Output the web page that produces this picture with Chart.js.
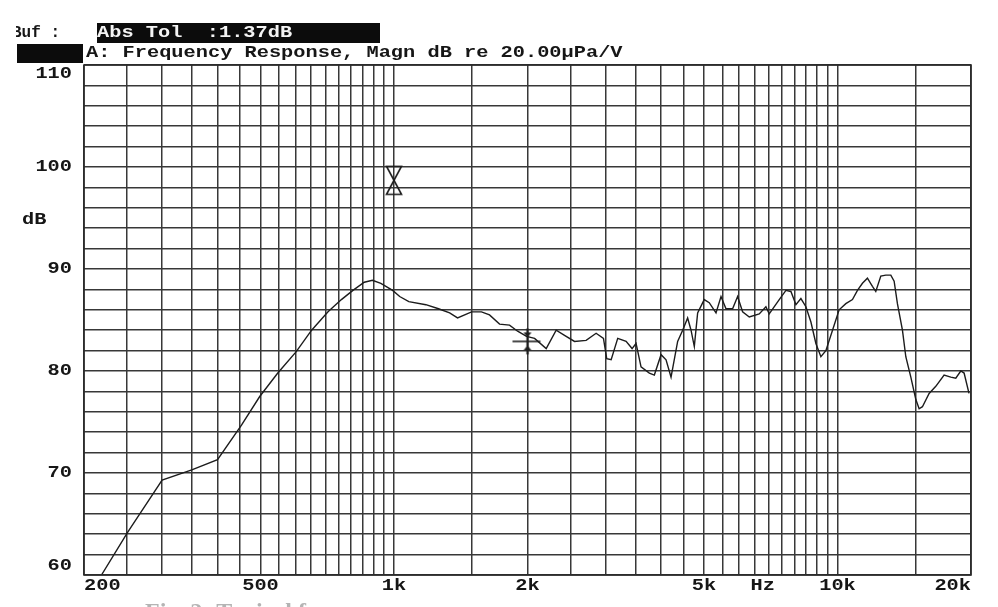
<!DOCTYPE html>
<html>
<head>
<meta charset="utf-8">
<script src="https://cdn.jsdelivr.net/npm/chart.js@4/dist/chart.umd.min.js"></script>
<style>
  html, body { margin: 0; padding: 0; background: #ffffff; }
  #wrap { width: 998px; height: 607px; position: relative; }
</style>
</head>
<body>
<div id="wrap"><canvas id="c" width="998" height="607"></canvas></div>
<script>
// ---- data ----
const freqHz = [219, 251, 300, 350, 400, 453, 498, 547, 602, 652, 710, 761, 808, 857, 894, 934, 993,
  1030, 1080, 1180, 1260, 1335, 1391, 1496, 1575, 1642, 1730, 1822, 1900, 1990, 2075, 2204, 2321, 2424,
  2553, 2712, 2856, 2967, 3018, 3088, 3195, 3337, 3442, 3514, 3606, 3765, 3864, 4001, 4106, 4214, 4361,
  4476, 4593, 4675, 4755, 4838, 5006, 5138, 5322, 5462, 5605, 5801, 5954, 6110, 6325, 6661, 6896, 7015,
  7390, 7650, 7852, 8059, 8270, 8487, 8711, 8939, 9174, 9414, 9745, 10085, 10442, 10808, 11092, 11383,
  11682, 11989, 12200, 12522, 12851, 13189, 13419, 13650, 14010, 14258, 14634, 15020, 15278, 15541,
  16091, 16659, 17393, 18009, 18481, 18967, 19296, 19794];
const dbValues = [60.0, 64.2, 69.3, 70.3, 71.3, 74.7, 77.5, 79.8, 81.9, 84.0, 85.8, 87.0, 87.9, 88.7, 88.9, 88.6, 87.9,
  87.3, 86.8, 86.5, 86.1, 85.7, 85.2, 85.8, 85.8, 85.5, 84.6, 84.5, 83.9, 83.4, 83.2, 82.2, 84.0, 83.5,
  82.9, 83.0, 83.7, 83.2, 81.2, 81.1, 83.2, 82.9, 82.2, 82.7, 80.4, 79.8, 79.6, 81.6, 81.1, 79.4, 82.9,
  84.0, 85.2, 84.0, 82.4, 85.7, 87.0, 86.7, 85.7, 87.3, 86.1, 86.1, 87.3, 85.8, 85.3, 85.6, 86.3, 85.6,
  87.0, 87.9, 87.8, 86.5, 87.1, 86.3, 84.8, 82.7, 81.4, 82.0, 84.0, 86.0, 86.6, 87.0, 87.9, 88.6,
  89.1, 88.3, 87.8, 89.3, 89.4, 89.4, 88.8, 86.6, 84.0, 81.4, 79.4, 77.2, 76.3, 76.5,
  77.8, 78.5, 79.6, 79.4, 79.3, 80.0, 79.8, 77.8];

const markerFreq = [1000, 2000];
const markerDb = [98.7, 82.9];

const xGridTicks = [200, 250, 300, 350, 400, 450, 500, 550, 600, 650, 700, 750, 800, 850, 900, 950, 1000,
  1500, 2000, 2500, 3000, 3500, 4000, 4500, 5000, 5500, 6000, 6500, 7000, 7500, 8000, 8500, 9000, 9500,
  10000, 15000, 20000];
const xLabelValues = [200, 500, 1000, 2000, 5000, 10000, 20000];
const xLabelTexts = ['200', '500', '1k', '2k', '5k', '10k', '20k'];
const yLabelValues = [60, 70, 80, 90, 100, 110];
const yMin = 60, yMax = 110, yStep = 2;
const xMin = 200, xMax = 20000;

const headerBuf = 'Buf :';
const headerTol = 'Abs Tol  :1.37dB';
const titleText = 'A: Frequency Response, Magn dB re 20.00\u00B5Pa/V';
const yUnit = 'dB';
const xUnit = 'Hz';
const xUnitPos = 6780;
const captionText = 'Fig. 2: Typical frequency response';

// ---- marker glyphs ----
function makeHourglass() {
  const c = document.createElement('canvas');
  c.width = 18; c.height = 31;
  const g = c.getContext('2d');
  g.strokeStyle = '#1e1e1e'; g.lineWidth = 1.6;
  g.beginPath();
  g.moveTo(1.5, 1.5); g.lineTo(16.5, 1.5); g.lineTo(9, 15.5); g.closePath();
  g.moveTo(9, 15.5); g.lineTo(1.5, 29.5); g.lineTo(16.5, 29.5); g.closePath();
  g.stroke();
  return c;
}
function makeCursor() {
  const c = document.createElement('canvas');
  c.width = 34; c.height = 30;
  const g = c.getContext('2d');
  g.strokeStyle = '#1e1e1e'; g.fillStyle = '#1e1e1e';
  g.lineWidth = 1.6;
  g.beginPath(); g.moveTo(2, 15); g.lineTo(30, 15); g.stroke();
  g.lineWidth = 2.2;
  g.beginPath(); g.moveTo(17, 2); g.lineTo(17, 28); g.stroke();
  g.beginPath(); g.moveTo(13, 6); g.lineTo(21, 6); g.lineTo(17, 11); g.closePath(); g.fill();
  g.beginPath(); g.moveTo(13, 24); g.lineTo(21, 24); g.lineTo(17, 19); g.closePath(); g.fill();
  return c;
}

const FONT = 'bold 16px "Liberation Mono", "DejaVu Sans Mono", monospace';
const SX = 1.27;
function txt(ctx, s, x, y, align, color, sx) {
  ctx.save();
  ctx.font = FONT;
  ctx.fillStyle = color || '#161616';
  ctx.textBaseline = 'middle';
  ctx.translate(x, y);
  ctx.scale(sx || SX, 1);
  ctx.textAlign = align;
  ctx.fillText(s, 0, 0);
  ctx.restore();
}

const decor = {
  id: 'decor',
  afterDatasetsDraw(chart) {
    const ctx = chart.ctx;
    const a = chart.chartArea;
    ctx.save();
    ctx.strokeStyle = '#2a2a2a';
    ctx.lineWidth = 1.6;
    ctx.strokeRect(a.left, a.top, a.right - a.left, a.bottom - a.top);
    ctx.restore();
  },
  afterDraw(chart) {
    const ctx = chart.ctx;
    const xs = chart.scales.x, ys = chart.scales.y;
    // header
    ctx.save();
    ctx.fillStyle = '#0c0c0c';
    ctx.fillRect(97, 23, 283, 20);
    ctx.fillRect(17, 44, 66, 19);
    ctx.restore();
    ctx.save();
    ctx.beginPath(); ctx.rect(16, 15, 80, 28); ctx.clip();
    txt(ctx, headerBuf, 12, 33, 'left', '#161616', 1.0);
    ctx.restore();
    txt(ctx, headerTol, 97, 33, 'left', '#f4f4f4');
    txt(ctx, titleText, 86, 53, 'left');
    // y labels
    yLabelValues.forEach(v => {
      let y = ys.getPixelForValue(v);
      if (v === yMax) y += 9;
      if (v === yMin) y -= 9;
      txt(ctx, String(v), 72, y, 'right');
    });
    txt(ctx, yUnit, 22, 220, 'left');
    // x labels
    xLabelValues.forEach((v, i) => {
      const x = xs.getPixelForValue(v);
      let align = 'center';
      if (v === xMin) align = 'left';
      if (v === xMax) align = 'right';
      txt(ctx, xLabelTexts[i], x, 586, align);
    });
    txt(ctx, xUnit, xs.getPixelForValue(xUnitPos), 586, 'center');
    // faint caption (cut off at the bottom edge)
    ctx.save();
    ctx.font = 'bold 24px "Liberation Serif", serif';
    ctx.fillStyle = '#b4b4b4';
    ctx.textBaseline = 'top';
    ctx.textAlign = 'left';
    ctx.fillText(captionText, 145, 601);
    ctx.restore();
  }
};

const curve = freqHz.map((f, i) => ({ x: f, y: dbValues[i] }));
const markers = markerFreq.map((f, i) => ({ x: f, y: markerDb[i] }));

new Chart(document.getElementById('c'), {
  type: 'line',
  data: {
    datasets: [
      {
        data: curve,
        borderColor: '#1c1c1c',
        borderWidth: 1.4,
        pointRadius: 0,
        tension: 0,
        fill: false
      },
      {
        data: markers,
        showLine: false,
        pointStyle: [makeHourglass(), makeCursor()],
        pointRadius: 10
      }
    ]
  },
  options: {
    responsive: false,
    animation: false,
    layout: { padding: { left: 84, right: 27, top: 65, bottom: 32 } },
    plugins: { legend: { display: false }, tooltip: { enabled: false } },
    scales: {
      x: {
        type: 'logarithmic',
        min: xMin, max: xMax,
        bounds: 'data',
        afterBuildTicks(scale) { scale.ticks = xGridTicks.map(v => ({ value: v })); },
        ticks: { display: false, autoSkip: false },
        grid: { color: '#383838', lineWidth: 1.5, drawTicks: false },
        border: { display: false }
      },
      y: {
        type: 'linear',
        min: yMin, max: yMax,
        bounds: 'data',
        ticks: { display: false, stepSize: yStep },
        grid: { color: '#383838', lineWidth: 1.5, drawTicks: false },
        border: { display: false }
      }
    }
  },
  plugins: [decor]
});
</script>
</body>
</html>
